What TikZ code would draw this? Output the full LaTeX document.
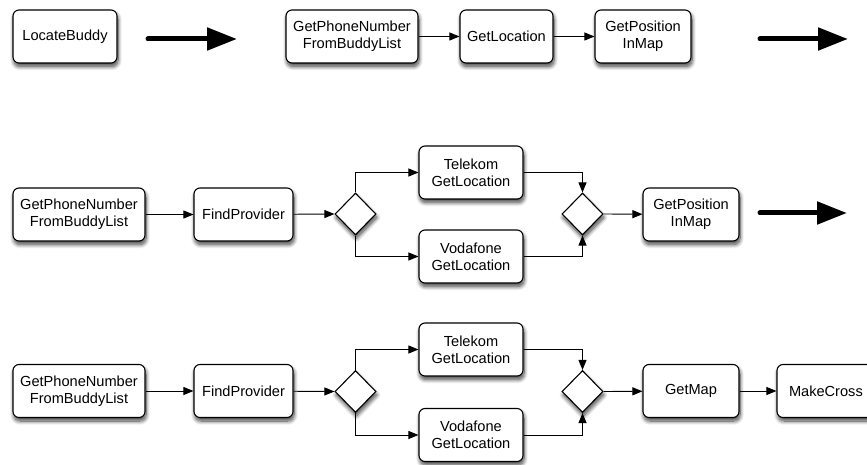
\documentclass[tikz,border=0pt]{standalone}
\usepackage{fontspec}
\setmainfont{Liberation Sans}
\usetikzlibrary{arrows.meta,shapes.geometric,shadows.blur}

\tikzset{
  dropshade/.style={blur shadow={shadow xshift=1pt, shadow yshift=-3.5pt,
      shadow blur radius=4pt, shadow blur steps=10, shadow opacity=75}},
  task/.style={draw=black, line width=1.1pt, fill=white, rounded corners=6pt,
      minimum height=53pt, align=center, inner sep=2pt,
      font=\fontsize{14.6}{17}\selectfont, dropshade},
  gate/.style={diamond, draw=black, line width=1.1pt, fill=white, aspect=1,
      minimum width=41pt, minimum height=42pt, inner sep=0pt, dropshade},
  flow/.style={draw=black, line width=0.9pt,
      -{Triangle[length=10pt,width=8pt]}},
  bigarrow/.style={draw=black, line width=5pt, line cap=round,
      -{Triangle[length=30pt,width=22pt]}}
}

\begin{document}
\begin{tikzpicture}[x=1pt,y=-1pt]
  \useasboundingbox (0,0) rectangle (867,465);
  \clip (0,0) rectangle (867,465);

  % top row: the single task and its first refinement
  \node[task, minimum width=104pt] (locate) at (65,36.5) {LocateBuddy};
  \node[task, minimum width=132pt] (phoneA) at (352,36.5) {GetPhoneNumber\\FromBuddyList};
  \node[task, minimum width=93pt]  (locA)   at (506.5,36.5) {GetLocation};
  \node[task, minimum width=96pt]  (posA)   at (643,36.5) {GetPosition\\InMap};

  \coordinate (bigAs) at (148,39);
  \coordinate (bigAe) at (237,39);
  \coordinate (bigBs) at (760,39);
  \coordinate (bigBe) at (848,39);
  \draw[bigarrow] (bigAs) -- (bigAe);
  \draw[bigarrow] (bigBs) -- (bigBe);

  \draw[flow] (phoneA) -- (locA);
  \draw[flow] (locA) -- (posA);

  % middle row: provider-specific location lookup
  \node[task, minimum width=132pt] (phoneB) at (79,214.5) {GetPhoneNumber\\FromBuddyList};
  \node[task, minimum width=99pt]  (findB)  at (243.5,214.5) {FindProvider};
  \node[gate] (splitB) at (355.5,214) {};
  \node[task, minimum width=104pt] (telB)   at (471,172.5) {Telekom\\GetLocation};
  \node[task, minimum width=104pt] (vodB)   at (471,256.5) {Vodafone\\GetLocation};
  \node[gate] (joinB) at (582.5,214) {};
  \node[task, minimum width=96pt]  (posB)   at (691,214.5) {GetPosition\\InMap};

  \coordinate (bigCs) at (760,213);
  \coordinate (bigCe) at (847,213);
  \draw[bigarrow] (bigCs) -- (bigCe);

  \draw[flow] (phoneB) -- (findB);
  \draw[flow] (findB) -- (splitB.west);
  \draw[flow] (splitB.north) |- (telB.west);
  \draw[flow] (splitB.south) |- (vodB.west);
  \draw[flow] (telB.east) -| (joinB.north);
  \draw[flow] (vodB.east) -| (joinB.south);
  \draw[flow] (joinB.east) -- (posB);

  % bottom row: map retrieval and marking
  \node[task, minimum width=132pt] (phoneC) at (79,391) {GetPhoneNumber\\FromBuddyList};
  \node[task, minimum width=99pt]  (findC)  at (243.5,391) {FindProvider};
  \node[gate] (splitC) at (355.5,391.5) {};
  \node[task, minimum width=104pt] (telC)   at (471,349.5) {Telekom\\GetLocation};
  \node[task, minimum width=104pt] (vodC)   at (471,435) {Vodafone\\GetLocation};
  \node[gate] (joinC) at (582.5,391.5) {};
  \node[task, minimum width=96pt]  (mapC)   at (691,391) {GetMap};
  \node[task, minimum width=104pt, text width=80pt, align=left, inner xsep=12pt] (crossC) at (829,391) {MakeCross};

  \draw[flow] (phoneC) -- (findC);
  \draw[flow] (findC) -- (splitC.west);
  \draw[flow] (splitC.north) |- (telC.west);
  \draw[flow] (splitC.south) |- (vodC.west);
  \draw[flow] (telC.east) -| (joinC.north);
  \draw[flow] (vodC.east) -| (joinC.south);
  \draw[flow] (joinC.east) -- (mapC);
  \draw[flow] (mapC) -- (crossC);
\end{tikzpicture}
\end{document}
